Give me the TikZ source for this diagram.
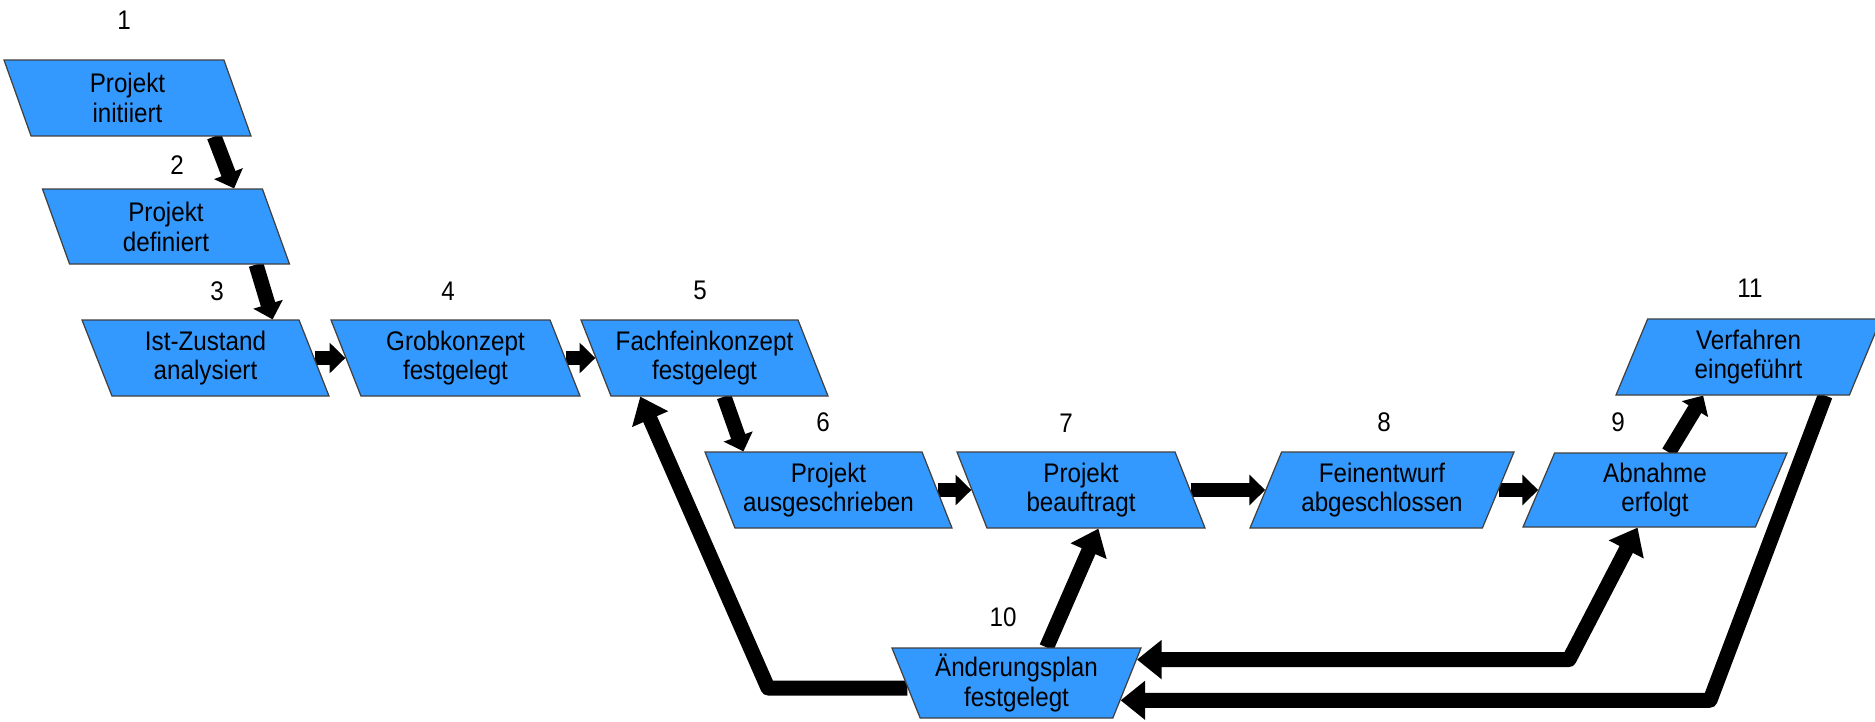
\documentclass[tikz,border=0pt]{standalone}
\usepackage{fontspec}
\setmainfont{Liberation Sans}[FakeStretch=0.9]
\usetikzlibrary{shapes.geometric,arrows.meta,calc}
\definecolor{boxblue}{RGB}{51,153,255}
\pgfdeclarelayer{bg}
\pgfsetlayers{bg,main}
\begin{document}
\begin{tikzpicture}[x=0.02cm,y=-0.02cm,
  font=\fontsize{15.3}{17}\selectfont,
  pbox/.style={trapezium, trapezium stretches body, fill=boxblue, draw=black!75,
    line width=0.7pt, inner sep=0pt, align=center, minimum height=1.52cm},
  rb/.style={pbox, trapezium left angle=118.6, trapezium right angle=61.4},
  lb/.style={pbox, trapezium left angle=60.1, trapezium right angle=119.9},
  num/.style={inner sep=0pt},
  flow/.style={line width=8.5pt, -{Triangle[width=17pt,length=9pt]}},
  back/.style={line width=8.5pt, line join=round, -{Triangle[width=21.5pt,length=14pt]}},
  backboth/.style={line width=8.5pt, line join=round, {Triangle[width=21.5pt,length=14pt]}-{Triangle[width=21.5pt,length=14pt]}},
]
\begin{pgfonlayer}{bg}
\fill[white] (0,0) rectangle (1875,721);
\end{pgfonlayer}
\useasboundingbox (0,0) rectangle (1875,721);

% boxes
\node[rb, minimum width=4.94cm] (b1) at (127.5,98) {Projekt\\initiiert};
\node[rb, minimum width=4.94cm, minimum height=1.5cm] (b2) at (166,226.5) {Projekt\\definiert};
\node[rb, minimum width=4.94cm] (b3) at (205.5,358) {Ist-Zustand\\analysiert};
\node[rb, minimum width=4.98cm] (b4) at (455.5,358) {Grobkonzept\\festgelegt};
\node[rb, minimum width=4.94cm] (b5) at (704.5,358) {Fachfeinkonzept\\festgelegt};
\node[rb, minimum width=4.94cm] (b6) at (828.5,490) {Projekt\\ausgeschrieben};
\node[rb, minimum width=4.96cm] (b7) at (1081,490) {Projekt\\beauftragt};
\node[lb, minimum width=5.28cm] (b8) at (1382,490) {Feinentwurf\\abgeschlossen};
\node[lb, minimum width=5.28cm, minimum height=1.48cm] (b9) at (1655,490) {Abnahme\\erfolgt};
\node[lb, minimum width=5.3cm] (b11) at (1748.5,357) {Verfahren\\eingeführt};
\node[pbox, trapezium left angle=115.9, trapezium right angle=115.9,
  minimum width=4.98cm, minimum height=1.4cm] (b10) at (1016.5,683) {Änderungsplan\\festgelegt};

% numbers
\node[num] (n1) at (124,20) {1};
\node[num] (n2) at (177,165) {2};
\node[num] (n3) at (217,291) {3};
\node[num] (n4) at (448,291) {4};
\node[num] (n5) at (700,290) {5};
\node[num] (n6) at (823,422) {6};
\node[num] (n7) at (1066,423) {7};
\node[num] (n8) at (1384,422) {8};
\node[num] (n9) at (1618,422) {9};
\node[num] (n10) at (1003,617) {10};
\node[num] (n11) at (1750,288) {11};

% helper coordinates
\coordinate (c1) at (768,688);
\coordinate (c2) at (1569,660);
\coordinate (c3) at (1710,700);
\coordinate (s10l) at ($(b10.top left corner)!0.571!(b10.bottom left corner)$);
\coordinate (e10r1) at ($(b10.top right corner)!0.171!(b10.bottom right corner)$);
\coordinate (e10r2) at ($(b10.top right corner)!0.743!(b10.bottom right corner)$);

\begin{pgfonlayer}{bg}
\draw[flow] ($(b1.bottom left corner)!0.83!(b1.bottom right corner)$) -- ($(b2.top left corner)!0.87!(b2.top right corner)$);
\draw[flow] ($(b2.bottom left corner)!0.845!(b2.bottom right corner)$) -- ($(b3.top left corner)!0.877!(b3.top right corner)$);
\draw[flow] (b3.right side) -- (b4.left side);
\draw[flow] (b4.right side) -- (b5.left side);
\draw[flow] ($(b5.bottom left corner)!0.52!(b5.bottom right corner)$) -- ($(b6.top left corner)!0.18!(b6.top right corner)$);
\draw[flow] (b6.right side) -- (b7.left side);
\draw[flow] (b7.right side) -- (b8.left side);
\draw[flow] (b8.right side) -- (b9.left side);
\draw[flow] ($(b9.top left corner)!0.49!(b9.top right corner)$) -- ($(b11.bottom left corner)!0.375!(b11.bottom right corner)$);
\draw[back] ($(b10.top left corner)!0.62!(b10.top right corner)$) -- ($(b7.bottom left corner)!0.51!(b7.bottom right corner)$);
\draw[back] (s10l) -- (s10l -| c1) -- ($(b5.bottom left corner)!0.136!(b5.bottom right corner)$);
\draw[backboth] (e10r1) -- (e10r1 -| c2) -- ($(b9.bottom left corner)!0.494!(b9.bottom right corner)$);
\draw[back] ($(b11.bottom left corner)!0.895!(b11.bottom right corner)$) -- (e10r2 -| c3) -- (e10r2);
\end{pgfonlayer}
\end{tikzpicture}
\end{document}
